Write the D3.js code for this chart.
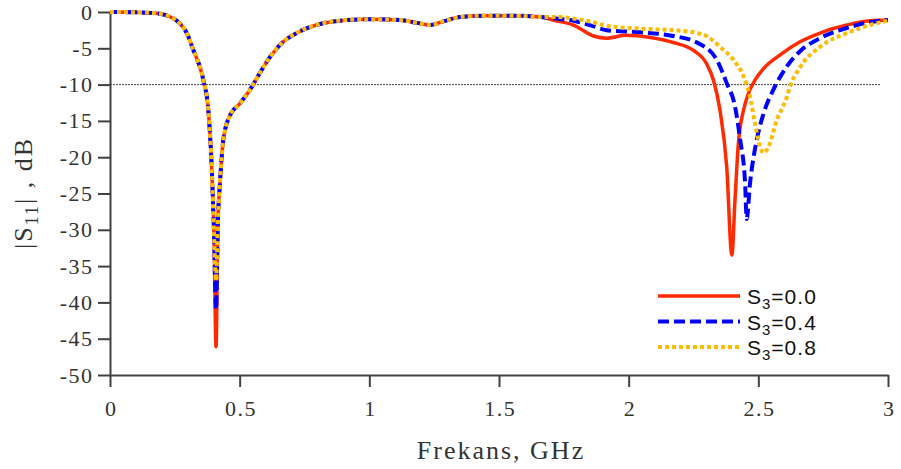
<!DOCTYPE html>
<html>
<head>
<meta charset="utf-8">
<script src="https://cdn.jsdelivr.net/npm/d3@7"></script>
<style>
  body { margin: 0; background: #fff; }
</style>
</head>
<body>
<div id="chart"></div>
<script>
// x ticks (GHz) and y ticks (dB)
const xTicks = [0, 0.5, 1, 1.5, 2, 2.5, 3];
const yTicks = [0, -5, -10, -15, -20, -25, -30, -35, -40, -45, -50];

// common part of all three curves, up to the first resonance
const commonLeft = [[0, 0], [0.1, -0.05], [0.154, -0.12], [0.193, -0.25], [0.231, -0.65],
  [0.27, -1.6], [0.296, -2.9], [0.321, -5.2], [0.36, -9.4], [0.379, -13.5],
  [0.392, -21.3], [0.401, -30.5]];
// depth of the first dip at 0.409 GHz for each S3
const firstDip = [-46.1, -41, -37];
// common part after the first dip
const commonMid = [[0.416, -29], [0.424, -23.6], [0.437, -17.6], [0.463, -14.2],
  [0.501, -12.6], [0.54, -10.7], [0.578, -8.4], [0.617, -6.2], [0.668, -4.1],
  [0.72, -2.9], [0.861, -1.3], [0.99, -1.0], [1.118, -1.1],
  [1.183, -1.5], [1.234, -1.8], [1.285, -1.3], [1.35, -0.7], [1.44, -0.5],
  [1.568, -0.5], [1.66, -0.7]];

// upper band, per series
const tailS00 = [[1.72, -1.2], [1.787, -1.8], [1.864, -3.3], [1.915, -3.6], [1.99, -3.2],
  [2.083, -3.5], [2.172, -4.2], [2.25, -5.3], [2.30, -7.1], [2.327, -9.4],
  [2.352, -13.5], [2.378, -21.3], [2.398, -33.5], [2.41, -25.9], [2.423, -18.1],
  [2.443, -13.5], [2.462, -11.2], [2.487, -9.4], [2.52, -7.8], [2.584, -5.9],
  [2.661, -4.1], [2.738, -2.9], [2.841, -1.8], [2.93, -1.2], [3.0, -1.1]];
const tailS04 = [[1.72, -0.9], [1.787, -1.2], [1.85, -1.8], [1.915, -2.5], [2.044, -2.8],
  [2.172, -3.3], [2.263, -4.2], [2.34, -6.6], [2.378, -9.8], [2.41, -13],
  [2.43, -17.6], [2.449, -23.6], [2.455, -28.5], [2.468, -23.6], [2.494, -17.6],
  [2.52, -14], [2.558, -10.7], [2.61, -7.5], [2.661, -5.4], [2.738, -3.6],
  [2.841, -2.2], [2.93, -1.4], [3.0, -1.1]];
const tailS08 = [[1.72, -0.7], [1.787, -0.9], [1.85, -1.3], [1.915, -1.9], [2.044, -2.3],
  [2.172, -2.5], [2.263, -2.9], [2.30, -3.3], [2.352, -4.8], [2.404, -6.6],
  [2.443, -8.9], [2.468, -11.7], [2.487, -15.3], [2.507, -18.6], [2.52, -19.4],
  [2.539, -18.6], [2.571, -14.9], [2.61, -11.7], [2.622, -10.3], [2.661, -7.6],
  [2.738, -4.8], [2.841, -2.9], [2.93, -1.8], [3.0, -1.2]];

const labels = ["0.0", "0.4", "0.8"];
const tails = [tailS00, tailS04, tailS08];

const series = labels.map((lab, i) => ({
  label: lab,
  values: commonLeft.concat([[0.409, firstDip[i]]], commonMid, tails[i])
}));

const styles = [
  { color: "#ff2a00", width: 3.5, dash: null },
  { color: "#0000ff", width: 4, dash: "11,5" },
  { color: "#ffbb00", width: 4, dash: "4,3" }
];

const serif = "'Liberation Serif', 'Times New Roman', serif";

const margin = { top: 12, right: 13, bottom: 94, left: 110 },
      width = 901 - margin.left - margin.right,
      height = 469 - margin.top - margin.bottom;

const svg = d3.select("#chart")
  .append("svg")
  .attr("width", 901)
  .attr("height", 469)
  .append("g")
  .attr("transform", `translate(${margin.left},${margin.top})`);

const x = d3.scaleLinear().domain([0, 3]).range([0, width]);
const y = d3.scaleLinear().domain([-50, 0]).range([height, 0]);

const styleAxis = g => {
  g.selectAll("path, line").attr("stroke", "#404040").attr("stroke-width", 2);
  g.selectAll("text")
    .style("font-family", serif)
    .style("font-size", "22px")
    .style("letter-spacing", "1.5px")
    .style("fill", "#333");
};

svg.append("g")
  .attr("transform", `translate(0,${height})`)
  .call(d3.axisBottom(x).tickValues(xTicks).tickFormat(d => String(d))
    .tickSize(12).tickSizeOuter(0).tickPadding(13))
  .call(styleAxis)
  .selectAll("text").attr("dx", "0.75px");

svg.append("g")
  .call(d3.axisLeft(y).tickValues(yTicks).tickFormat(d => String(d))
    .tickSize(12).tickSizeOuter(0).tickPadding(4.5))
  .call(styleAxis);

// -10 dB reference line
svg.append("line")
  .attr("x1", x(0)).attr("x2", x(2.97))
  .attr("y1", y(-10)).attr("y2", y(-10))
  .attr("stroke", "#444")
  .attr("stroke-width", 1)
  .attr("stroke-dasharray", "2,1");

const line = d3.line()
  .x(d => x(d[0]))
  .y(d => y(d[1]))
  .curve(d3.curveMonotoneX);

series.forEach((s, i) => {
  svg.append("path")
    .datum(s.values)
    .attr("fill", "none")
    .attr("stroke", styles[i].color)
    .attr("stroke-width", styles[i].width)
    .attr("stroke-dasharray", styles[i].dash)
    .attr("d", line);
});

// legend
const legend = svg.append("g").attr("transform", `translate(${658 - margin.left},${296 - margin.top})`);
series.forEach((s, i) => {
  const g = legend.append("g").attr("transform", `translate(0,${i * 25.5})`);
  g.append("line")
    .attr("x1", 0).attr("x2", 82)
    .attr("stroke", styles[i].color)
    .attr("stroke-width", styles[i].width)
    .attr("stroke-dasharray", styles[i].dash);
  const t = g.append("text")
    .attr("x", 89).attr("y", 8)
    .style("font-family", "'Liberation Sans', Arial, sans-serif")
    .style("font-size", "21px")
    .style("letter-spacing", "1px")
    .style("fill", "#111");
  t.append("tspan").text("S");
  t.append("tspan").attr("dy", 5).style("font-size", "15px").text("3");
  t.append("tspan").attr("dy", -5).text("=" + s.label);
});

// axis titles
svg.append("text")
  .attr("text-anchor", "middle")
  .attr("x", 501 - margin.left)
  .attr("y", 459 - margin.top)
  .style("font-family", serif)
  .style("font-size", "26px")
  .style("letter-spacing", "2px")
  .style("fill", "#333")
  .text("Frekans, GHz");

const yl = svg.append("text")
  .attr("text-anchor", "middle")
  .attr("transform", "rotate(-90)")
  .attr("x", -(193 - margin.top))
  .attr("y", 32 - margin.left)
  .style("font-family", serif)
  .style("font-size", "26px")
  .style("letter-spacing", "2px")
  .style("fill", "#333");
yl.append("tspan").text("|S");
yl.append("tspan").attr("dy", 6).style("font-size", "18px").text("11");
yl.append("tspan").attr("dy", -6).style("white-space", "pre").text("| , dB");
</script>
</body>
</html>
